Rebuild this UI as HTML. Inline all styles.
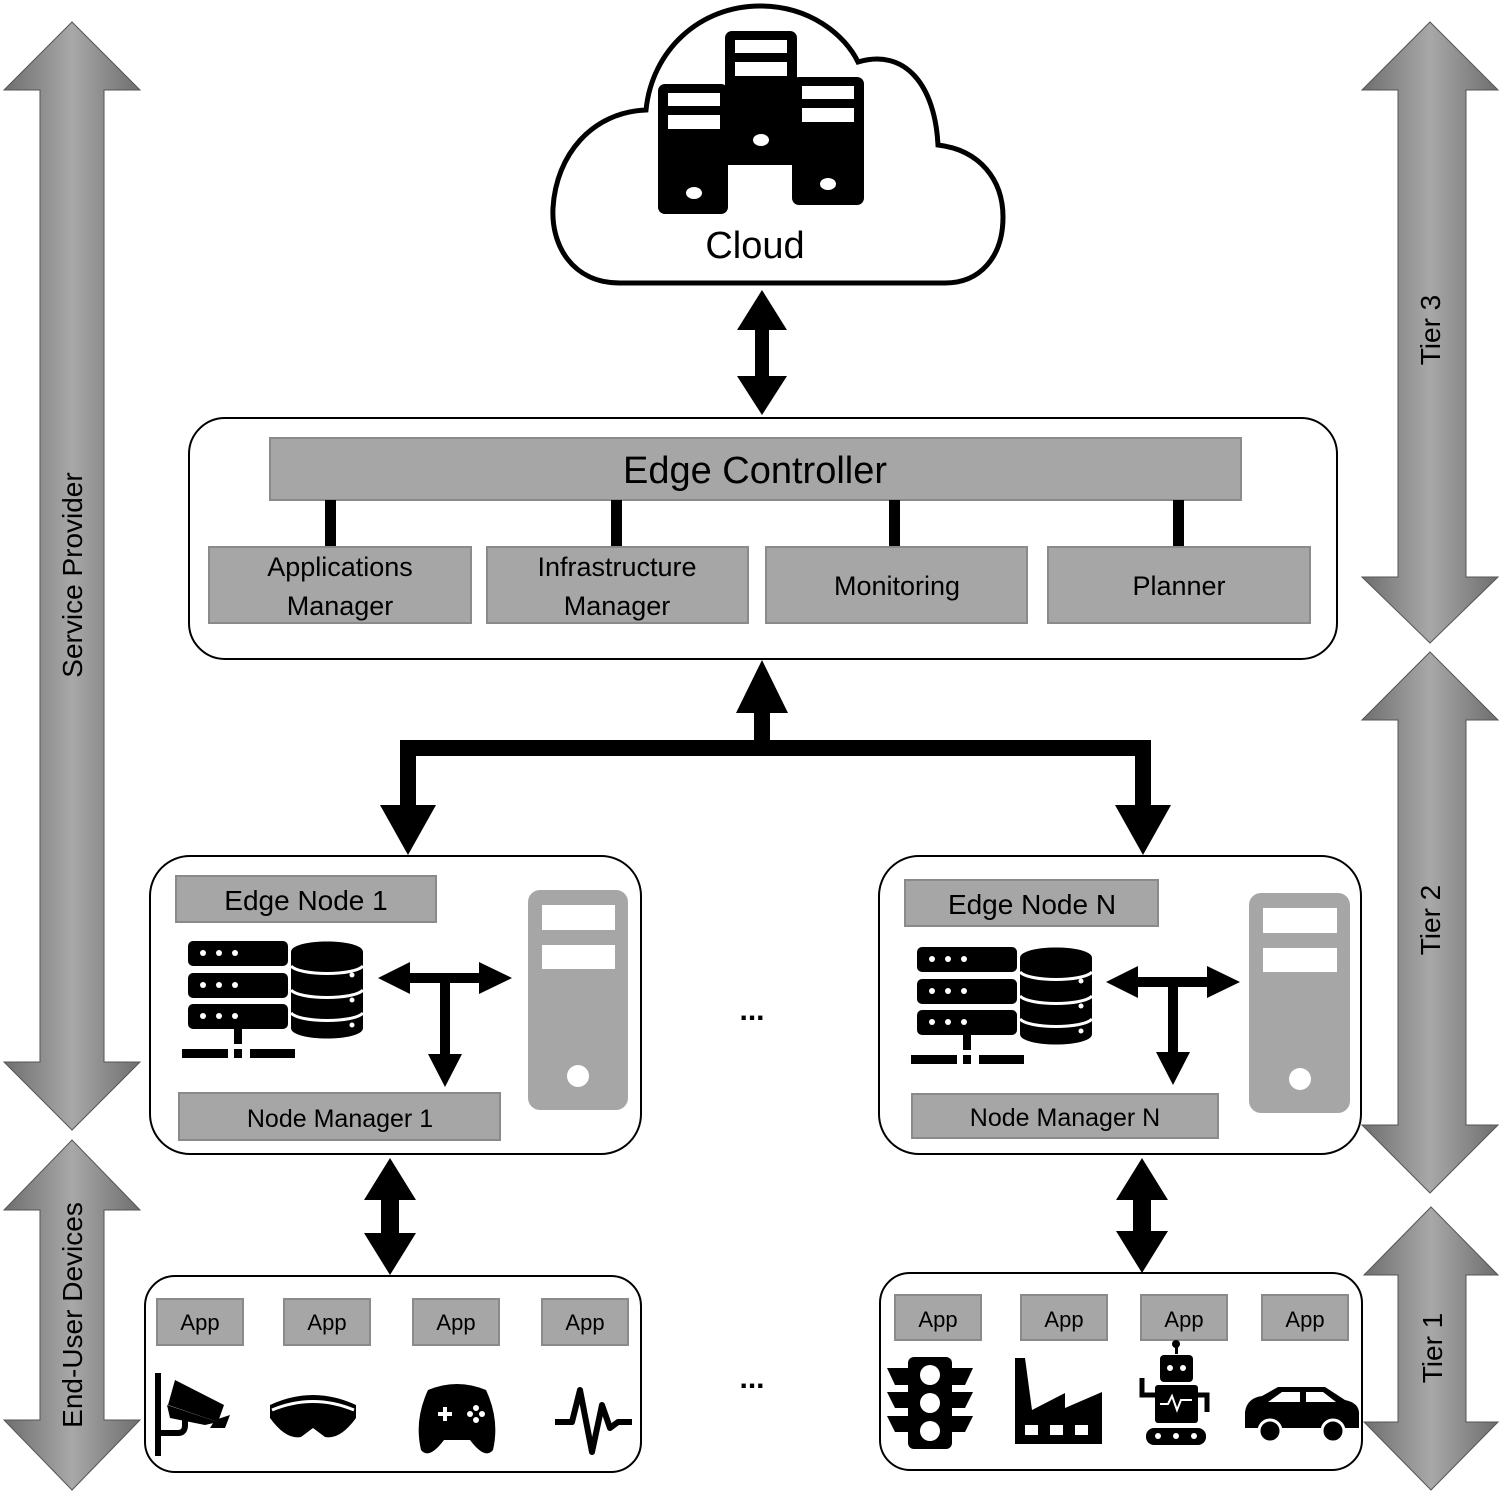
<!DOCTYPE html>
<html><head><meta charset="utf-8"><style>
html,body{margin:0;padding:0;background:#fff}
svg{display:block}
text{font-family:"Liberation Sans","DejaVu Sans",sans-serif;fill:#000}
</style></head><body>
<svg width="1505" height="1494" viewBox="0 0 1505 1494" xmlns="http://www.w3.org/2000/svg">
<defs>
<linearGradient id="gv" x1="0" y1="0" x2="1" y2="0">
<stop offset="0" stop-color="#6e6e6e"/><stop offset="0.5" stop-color="#a8a8a8"/><stop offset="1" stop-color="#6e6e6e"/>
</linearGradient>
<g id="srvdb">
<rect x="188" y="941" width="100" height="25" rx="5" fill="#000"/>
<rect x="188" y="973" width="100" height="25" rx="5" fill="#000"/>
<rect x="188" y="1004" width="100" height="25" rx="5" fill="#000"/>
<g fill="#fff"><circle cx="203" cy="953" r="3"/><circle cx="219" cy="953" r="3"/><circle cx="235" cy="953" r="3"/>
<circle cx="203" cy="985" r="3"/><circle cx="219" cy="985" r="3"/><circle cx="235" cy="985" r="3"/>
<circle cx="203" cy="1016" r="3"/><circle cx="219" cy="1016" r="3"/><circle cx="235" cy="1016" r="3"/></g>
<rect x="234" y="1029" width="8" height="15" fill="#000"/>
<rect x="182" y="1049" width="46" height="9" fill="#000"/>
<rect x="234" y="1049" width="8" height="9" fill="#000"/>
<rect x="250" y="1049" width="45" height="9" fill="#000"/>
<path d="M291 952 C291 938 363 938 363 952 L363 1028 C363 1042 291 1042 291 1028 Z" fill="#000"/>
<path d="M291 966 C300 976 354 976 363 966 M291 990 C300 1000 354 1000 363 990 M291 1013 C300 1023 354 1023 363 1013" stroke="#fff" stroke-width="3" fill="none"/>
<circle cx="352" cy="975" r="2.5" fill="#fff"/><circle cx="352" cy="1000" r="2.5" fill="#fff"/><circle cx="352" cy="1025" r="2.5" fill="#fff"/>
</g>
</defs>

<!-- side arrows -->
<polygon points="72,22 140,90 104,90 104,1062 140,1062 72,1130 4,1062 40,1062 40,90 4,90" fill="url(#gv)" stroke="#555" stroke-width="1"/>
<polygon points="72,1140 140,1210 104,1210 104,1420 140,1420 72,1490 4,1420 40,1420 40,1210 4,1210" fill="url(#gv)" stroke="#555" stroke-width="1"/>
<polygon points="1430,22 1498,90 1466,90 1466,577 1498,577 1430,643 1362,577 1398,577 1398,90 1362,90" fill="url(#gv)" stroke="#555" stroke-width="1"/>
<polygon points="1430,652 1498,720 1466,720 1466,1125 1498,1125 1430,1193 1362,1125 1398,1125 1398,720 1362,720" fill="url(#gv)" stroke="#555" stroke-width="1"/>
<polygon points="1431,1207 1498,1275 1466,1275 1466,1422 1498,1422 1431,1490 1364,1422 1398,1422 1398,1275 1364,1275" fill="url(#gv)" stroke="#555" stroke-width="1"/>
<text x="72" y="585" font-size="28" text-anchor="middle" transform="rotate(-90 72 575)">Service Provider</text>
<text x="72" y="1325" font-size="28" text-anchor="middle" transform="rotate(-90 72 1315)">End-User Devices</text>
<text x="1430" y="340" font-size="28" text-anchor="middle" transform="rotate(-90 1430 330)">Tier 3</text>
<text x="1430" y="930" font-size="28" text-anchor="middle" transform="rotate(-90 1430 920)">Tier 2</text>
<text x="1432" y="1358" font-size="28" text-anchor="middle" transform="rotate(-90 1432 1348)">Tier 1</text>

<!-- cloud -->
<path d="M620 283 C572 283 551 245 553 208 C556 155 592 112 646 110 C652 50 700 6 760 6 C810 6 845 35 858 62 C905 48 935 85 938 145 C980 150 1003 180 1003 217 C1003 257 980 283 945 283 Z" fill="#fff" stroke="#000" stroke-width="5"/>
<rect x="658" y="84" width="70" height="130" rx="7" fill="#000"/>
<rect x="725" y="31" width="72" height="130" rx="7" fill="#000"/>
<rect x="792" y="77" width="72" height="128" rx="7" fill="#000"/>
<rect x="728" y="140" width="64" height="25" fill="#000"/>
<g fill="#fff">
<rect x="668" y="93" width="52" height="13"/><rect x="668" y="115" width="52" height="14"/>
<rect x="735" y="40" width="52" height="13"/><rect x="735" y="62" width="52" height="14"/>
<rect x="802" y="86" width="52" height="13"/><rect x="802" y="108" width="52" height="14"/>
<ellipse cx="761" cy="140" rx="8" ry="6"/><ellipse cx="694" cy="193" rx="8" ry="6"/><ellipse cx="828" cy="184" rx="8" ry="6"/>
</g>
<text x="755" y="258" font-size="38" text-anchor="middle">Cloud</text>

<polygon points="762,290 787,330 769,330 769,376 787,376 762,415 737,376 755,376 755,330 737,330" fill="#000"/>

<!-- edge controller -->
<rect x="189" y="418" width="1148" height="241" rx="36" fill="#fff" stroke="#000" stroke-width="2"/>
<rect x="270" y="438" width="971" height="62" fill="#a6a6a6" stroke="#8a8a8a" stroke-width="2"/>
<text x="755" y="483" font-size="38" text-anchor="middle">Edge Controller</text>
<g fill="#000"><rect x="325" y="500" width="11" height="46"/><rect x="611" y="500" width="11" height="46"/><rect x="889" y="500" width="11" height="46"/><rect x="1173" y="500" width="11" height="46"/></g>
<g fill="#a6a6a6" stroke="#8a8a8a" stroke-width="2">
<rect x="209" y="547" width="262" height="76"/><rect x="487" y="547" width="261" height="76"/>
<rect x="766" y="547" width="261" height="76"/><rect x="1048" y="547" width="262" height="76"/></g>
<g font-size="27" text-anchor="middle">
<text x="340" y="576">Applications</text><text x="340" y="615">Manager</text>
<text x="617" y="576">Infrastructure</text><text x="617" y="615">Manager</text>
<text x="897" y="595">Monitoring</text><text x="1179" y="595">Planner</text></g>

<!-- tree arrow -->
<polygon points="762,660 788,713 770,713 770,740 1151,740 1151,805 1171,805 1143,855 1115,805 1135,805 1135,756 416,756 416,805 436,805 408,855 380,805 400,805 400,740 754,740 754,713 736,713" fill="#000"/>

<!-- edge nodes -->
<rect x="150" y="856" width="491" height="298" rx="40" fill="#fff" stroke="#000" stroke-width="2"/>
<rect x="879" y="856" width="482" height="298" rx="40" fill="#fff" stroke="#000" stroke-width="2"/>
<rect x="176" y="876" width="260" height="46" fill="#a6a6a6" stroke="#8a8a8a" stroke-width="2"/>
<text x="306" y="910" font-size="28" text-anchor="middle">Edge Node 1</text>
<rect x="179" y="1093" width="321" height="47" fill="#a6a6a6" stroke="#8a8a8a" stroke-width="2"/>
<text x="340" y="1127" font-size="25" text-anchor="middle">Node Manager 1</text>
<rect x="905" y="880" width="253" height="46" fill="#a6a6a6" stroke="#8a8a8a" stroke-width="2"/>
<text x="1032" y="914" font-size="28" text-anchor="middle">Edge Node N</text>
<rect x="912" y="1094" width="306" height="44" fill="#a6a6a6" stroke="#8a8a8a" stroke-width="2"/>
<text x="1065" y="1126" font-size="25" text-anchor="middle">Node Manager N</text>

<rect x="528" y="890" width="100" height="220" rx="12" fill="#a6a6a6"/>
<rect x="542" y="905" width="73" height="25" fill="#fff"/><rect x="542" y="945" width="73" height="24" fill="#fff"/>
<circle cx="578" cy="1076" r="11" fill="#fff"/>
<rect x="1249" y="893" width="101" height="220" rx="12" fill="#a6a6a6"/>
<rect x="1263" y="908" width="74" height="25" fill="#fff"/><rect x="1263" y="948" width="74" height="24" fill="#fff"/>
<circle cx="1300" cy="1079" r="11" fill="#fff"/>

<use href="#srvdb"/>
<use href="#srvdb" transform="translate(729 6)"/>

<polygon points="378,978 410,962 410,973 479,973 479,962 512,978 479,994 479,983 450,983 450,1054 462,1054 445,1087 428,1054 440,1054 440,983 410,983 410,994" fill="#000"/>
<polygon points="1106,982 1138,966 1138,977 1207,977 1207,966 1240,982 1207,998 1207,987 1178,987 1178,1052 1190,1052 1173,1085 1156,1052 1168,1052 1168,987 1138,987 1138,998" fill="#000"/>

<text x="752" y="1020" font-size="30" font-weight="bold" text-anchor="middle">...</text>
<text x="752" y="1388" font-size="30" font-weight="bold" text-anchor="middle">...</text>

<polygon points="390,1158 416,1200 399,1200 399,1233 416,1233 390,1275 364,1233 381,1233 381,1200 364,1200" fill="#000"/>
<polygon points="1142,1158 1168,1200 1151,1200 1151,1231 1168,1231 1142,1273 1116,1231 1133,1231 1133,1200 1116,1200" fill="#000"/>

<!-- device boxes -->
<rect x="145" y="1276" width="496" height="196" rx="30" fill="#fff" stroke="#000" stroke-width="2"/>
<rect x="880" y="1273" width="482" height="197" rx="30" fill="#fff" stroke="#000" stroke-width="2"/>
<g fill="#a6a6a6" stroke="#8a8a8a" stroke-width="2">
<rect x="157" y="1299" width="86" height="46"/><rect x="284" y="1299" width="86" height="46"/>
<rect x="413" y="1299" width="86" height="46"/><rect x="542" y="1299" width="86" height="46"/>
<rect x="895" y="1295" width="86" height="45"/><rect x="1021" y="1295" width="86" height="45"/>
<rect x="1141" y="1295" width="86" height="45"/><rect x="1262" y="1295" width="86" height="45"/></g>
<g font-size="22" text-anchor="middle">
<text x="200" y="1330">App</text><text x="327" y="1330">App</text><text x="456" y="1330">App</text><text x="585" y="1330">App</text>
<text x="938" y="1327">App</text><text x="1064" y="1327">App</text><text x="1184" y="1327">App</text><text x="1305" y="1327">App</text></g>

<!-- left device icons -->
<rect x="155" y="1373" width="6" height="83" fill="#000"/>
<path d="M158 1433 L178 1433 Q185 1433 185 1425 L185 1415" stroke="#000" stroke-width="6" fill="none"/>
<polygon points="175,1380 224,1405 218,1422 168,1405" fill="#000"/>
<polygon points="167,1405 218,1422 205,1425 170,1418" fill="#000"/>
<polygon points="215,1420 230,1415 225,1428 210,1428" fill="#000"/>
<path d="M270 1405 Q313 1385 356 1405 L356 1418 Q340 1440 325 1437 L313 1428 L301 1437 Q286 1440 270 1418 Z" fill="#000"/>
<path d="M272 1410 Q313 1393 354 1410" stroke="#fff" stroke-width="3" fill="none"/>
<path d="M428 1390 Q457 1378 486 1390 Q500 1420 493 1450 Q485 1460 470 1440 L444 1440 Q429 1460 421 1450 Q414 1420 428 1390 Z" fill="#000"/>
<path d="M438 1414 h14 M445 1407 v14" stroke="#fff" stroke-width="4"/>
<g fill="#fff"><circle cx="476" cy="1408" r="3"/><circle cx="476" cy="1420" r="3"/><circle cx="470" cy="1414" r="3"/><circle cx="482" cy="1414" r="3"/></g>
<polyline points="555,1422 572,1422 580,1390 592,1452 602,1405 610,1428 618,1422 632,1422" stroke="#000" stroke-width="6" fill="none" stroke-linejoin="round"/>

<!-- right device icons -->
<rect x="908" y="1357" width="44" height="92" rx="6" fill="#000"/>
<polygon points="887,1368 908,1368 908,1385 895,1385" fill="#000"/><polygon points="887,1392 908,1392 908,1408 895,1408" fill="#000"/><polygon points="887,1416 908,1416 908,1432 895,1432" fill="#000"/>
<polygon points="973,1368 952,1368 952,1385 965,1385" fill="#000"/><polygon points="973,1392 952,1392 952,1408 965,1408" fill="#000"/><polygon points="973,1416 952,1416 952,1432 965,1432" fill="#000"/>
<g fill="#fff"><circle cx="930" cy="1375" r="10"/><circle cx="930" cy="1403" r="10"/><circle cx="930" cy="1431" r="10"/></g>
<polygon points="1015,1358 1025,1358 1032,1410 1065,1393 1065,1408 1102,1392 1102,1444 1015,1444" fill="#000"/>
<g fill="#fff"><rect x="1025" y="1425" width="13" height="10"/><rect x="1050" y="1425" width="13" height="10"/><rect x="1075" y="1425" width="13" height="10"/></g>
<rect x="1175" y="1342" width="3" height="12" fill="#000"/><circle cx="1176" cy="1344" r="4" fill="#000"/>
<rect x="1160" y="1355" width="33" height="27" rx="4" fill="#000"/>
<g fill="#fff"><circle cx="1170" cy="1368" r="3"/><circle cx="1183" cy="1368" r="3"/></g>
<rect x="1155" y="1385" width="43" height="38" rx="3" fill="#000"/>
<polyline points="1160,1404 1168,1404 1172,1396 1177,1410 1181,1400 1192,1400" stroke="#fff" stroke-width="2" fill="none"/>
<path d="M1155 1395 L1142 1395 L1142 1378 M1198 1395 L1207 1395 L1207 1412" stroke="#000" stroke-width="5" fill="none"/>
<rect x="1146" y="1428" width="60" height="17" rx="8" fill="#000"/>
<g fill="#fff"><circle cx="1158" cy="1436" r="3"/><circle cx="1176" cy="1436" r="3"/><circle cx="1194" cy="1436" r="3"/></g>
<path d="M1245 1412 Q1247 1398 1262 1396 L1278 1387 L1325 1387 L1345 1400 Q1360 1403 1359 1415 L1359 1428 L1245 1428 Z" fill="#000"/>
<g fill="#fff"><polygon points="1282,1392 1300,1392 1300,1402 1268,1402"/><polygon points="1306,1392 1323,1392 1336,1402 1306,1402"/></g>
<circle cx="1270" cy="1431" r="11" fill="#000" stroke="#fff" stroke-width="3"/>
<circle cx="1333" cy="1431" r="11" fill="#000" stroke="#fff" stroke-width="3"/>
</svg>
</body></html>
